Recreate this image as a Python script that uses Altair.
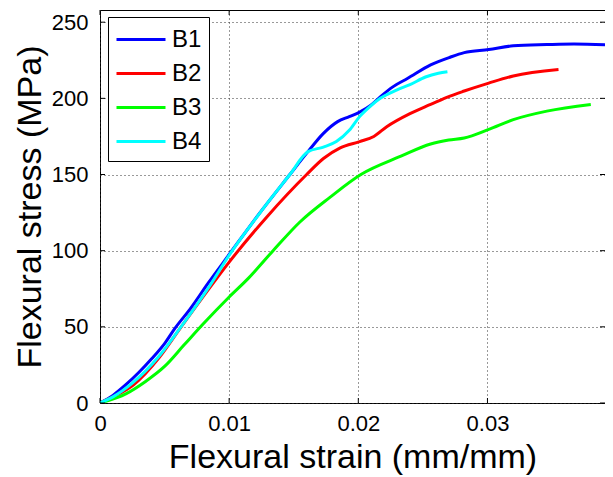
import altair as alt
import pandas as pd

# ---- data ----
b1_x = [0, 0.001, 0.002, 0.003, 0.004, 0.005, 0.0058, 0.007, 0.0084, 0.01, 0.0123, 0.0147, 0.0161, 0.0173,
        0.0184, 0.0193, 0.0201, 0.021, 0.0217, 0.0227, 0.0238, 0.0256, 0.0271, 0.0282, 0.0301, 0.032,
        0.0346, 0.0367, 0.0396]
b1_y = [0, 5, 12, 20, 29, 39, 49, 62, 79, 97.5, 124, 150, 165, 177,
        184.7, 188, 191, 195.7, 201, 207.7, 213, 222, 227, 230, 232, 234.5,
        235.3, 235.7, 235]

b2_x = [0, 0.001, 0.0026, 0.0046, 0.0062, 0.008, 0.01, 0.0129, 0.016, 0.0173, 0.0186, 0.0201, 0.0212,
        0.0222, 0.024, 0.0256, 0.0271, 0.0282, 0.0301, 0.032, 0.0355]
b2_y = [0, 4, 12, 30, 49, 70, 92.5, 122, 150, 160.5, 167.5, 171.6, 175,
        181.4, 190, 196, 201.5, 204.8, 210, 214.7, 219]

b3_x = [0, 0.002, 0.0035, 0.005, 0.0065, 0.008, 0.01, 0.0115, 0.0134, 0.0155, 0.0178, 0.0202, 0.0233,
        0.0256, 0.027, 0.0282, 0.0301, 0.032, 0.0346, 0.038]
b3_y = [0, 6, 14, 24, 38, 52, 69.6, 82, 100, 119, 135, 150, 162,
        170, 172.6, 174, 179.6, 186, 191.6, 196]

b4_x = [0, 0.001, 0.0025, 0.0045, 0.0061, 0.0085, 0.01, 0.0124, 0.0147, 0.0161, 0.0173, 0.0183, 0.0193,
        0.0201, 0.0209, 0.0217, 0.023, 0.024, 0.0252, 0.0262, 0.0269]
b4_y = [0, 4, 13, 30, 48, 77, 97, 125, 150, 165, 168, 171.6, 179,
        188, 194.6, 200, 205.6, 209, 214, 216.5, 217.5]

series_names = ["B1", "B2", "B3", "B4"]
series_colors = ["#0000FF", "#FF0000", "#00FF00", "#00FFFF"]
x_ticks = [0, 0.01, 0.02, 0.03]
y_ticks = [0, 50, 100, 150, 200, 250]

rows = []
for name, xs, ys in zip(series_names, [b1_x, b2_x, b3_x, b4_x], [b1_y, b2_y, b3_y, b4_y]):
    for i, (xv, yv) in enumerate(zip(xs, ys)):
        rows.append({"series": name, "strain": xv, "stress": yv, "idx": i})
df = pd.DataFrame(rows)

W, H = 505, 393
FONT = "Liberation Sans"

x_scale = alt.Scale(domain=[0, 0.0391], nice=False, zero=False)
y_scale = alt.Scale(domain=[0, 258], nice=False, zero=False)

lines = alt.Chart(df).mark_line(strokeWidth=3, interpolate="monotone", clip=True).encode(
    x=alt.X("strain:Q", scale=x_scale,
            axis=alt.Axis(title="Flexural strain (mm/mm)", values=x_ticks,
                          labelExpr="datum.value == 0 ? '0' : format(datum.value, '.2f')")),
    y=alt.Y("stress:Q", scale=y_scale,
            axis=alt.Axis(title="Flexural stress (MPa)", values=y_ticks)),
    color=alt.Color("series:N",
                    scale=alt.Scale(domain=series_names, range=series_colors),
                    legend=alt.Legend(title=None)),
    order="idx:Q",
)

xt = pd.DataFrame({"t": x_ticks})
yt = pd.DataFrame({"t": y_ticks})
tick_color = "#000000"
xb = alt.Chart(xt).mark_rule(color=tick_color, strokeWidth=1).encode(
    x=alt.X("t:Q", scale=x_scale), y=alt.value(H), y2=alt.value(H - 5))
xtop = alt.Chart(xt).mark_rule(color=tick_color, strokeWidth=1).encode(
    x=alt.X("t:Q", scale=x_scale), y=alt.value(0), y2=alt.value(5))
yl = alt.Chart(yt).mark_rule(color=tick_color, strokeWidth=1).encode(
    y=alt.Y("t:Q", scale=y_scale), x=alt.value(0), x2=alt.value(5))
yr = alt.Chart(yt).mark_rule(color=tick_color, strokeWidth=1).encode(
    y=alt.Y("t:Q", scale=y_scale), x=alt.value(W), x2=alt.value(W - 5))

chart = alt.layer(lines, xb, xtop, yl, yr).properties(
    width=W, height=H,
    autosize=alt.AutoSizeParams(type="none"),
    padding={"left": 92, "top": 2, "right": 0, "bottom": 74},
).configure_view(
    stroke="black", strokeWidth=1
).configure_axis(
    grid=True, gridDash=[1, 3], gridColor="#333333", gridOpacity=1, gridWidth=1,
    domain=False, ticks=False, labelFlush=False,
    labelFont=FONT, labelFontSize=22, labelColor="black",
    titleFont=FONT, titleFontSize=34, titleFontWeight="normal", titleColor="black",
).configure_axisX(
    labelPadding=10, titlePadding=6,
).configure_axisY(
    labelPadding=12, titlePadding=4,
).configure_legend(
    orient="none", legendX=8, legendY=7,
    strokeColor="black", fillColor="white", padding=7,
    symbolType="M-1,0H2.5", symbolSize=784, symbolStrokeWidth=3,
    labelFont=FONT, labelFontSize=24, labelColor="black", labelOffset=26,
    rowPadding=6, cornerRadius=0,
)

chart.save("out.html", embed_options={"renderer": "svg", "actions": False})
